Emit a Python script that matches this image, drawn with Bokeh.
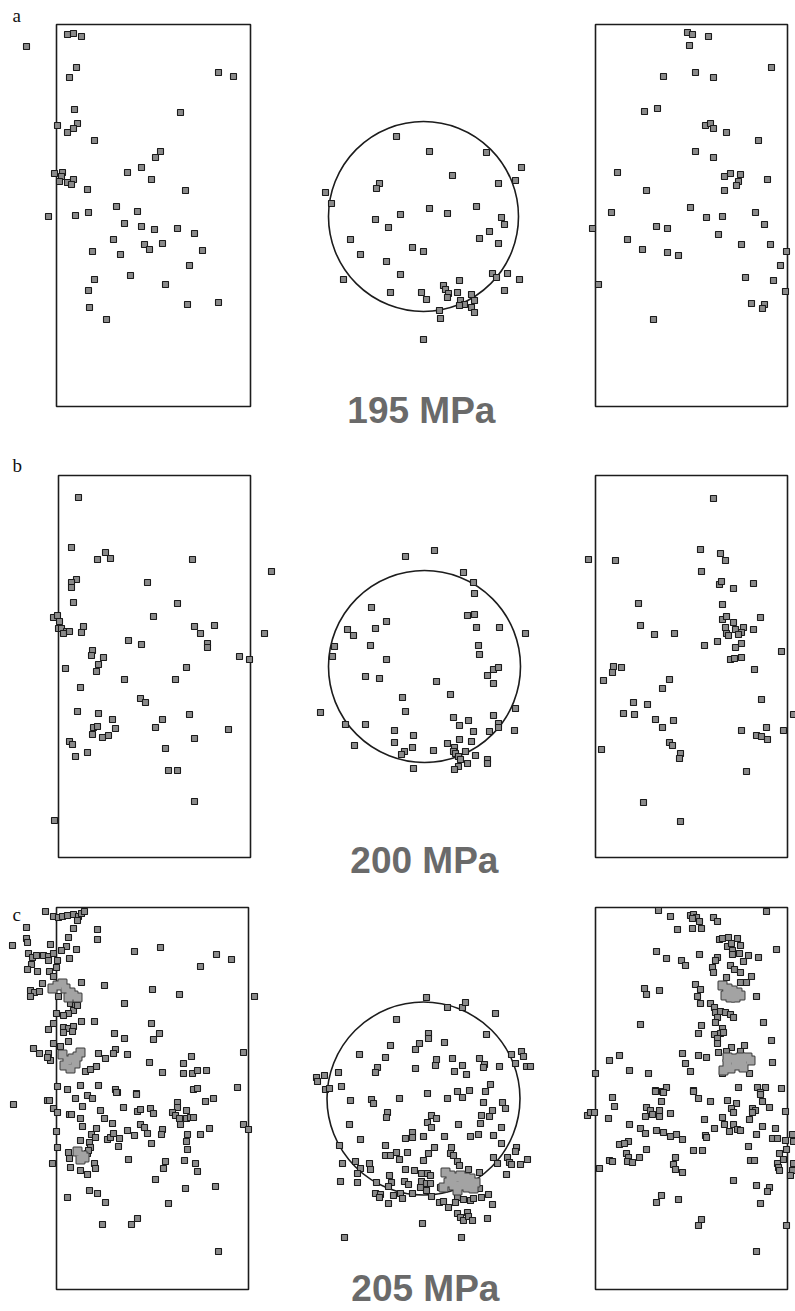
from bokeh.plotting import figure
from bokeh.models import Range1d
from bokeh.core.properties import value
from bokeh.embed import file_html
from bokeh.resources import INLINE

W, H = 795, 1311

# ---------------- data (page pixel units) ----------------
PANEL_LABELS = ["a", "b", "c"]
PANEL_LABEL_X = [12, 12, 12]
PANEL_LABEL_Y = [15, 465, 914]

PRESSURE_LABELS = ["195  MPa", "200  MPa", "205  MPa"]
PRESSURE_X = [426, 429, 430]
PRESSURE_Y = [410, 860, 1288]

# rectangular side views: left, right, top, bottom
RECT_LEFT = [56, 595, 58, 595, 56, 595]
RECT_RIGHT = [250, 787, 250, 787, 248, 787]
RECT_TOP = [24, 24, 475, 475, 907, 907]
RECT_BOTTOM = [406, 406, 857, 857, 1289, 1289]

# circular cross sections
CIRC_X = [423, 424, 423]
CIRC_Y = [216, 666, 1098]
CIRC_R = [95, 96, 96.5]

A_LEFT = [(26,46),(67,34),(73,33),(81,36),(76,67),(69,77),(218,72),(233,76),(74,109),(180,112),(57,125),(77,123),(73,128),(67,132),(94,140),(160,151),(155,157),(141,167),(127,172),(151,179),(54,173),(62,172),(61,176),(59,181),(67,182),(73,179),(71,184),(87,189),(185,190),(116,206),(137,211),(48,216),(75,215),(88,212),(124,223),(141,226),(154,229),(177,228),(194,233),(113,239),(144,244),(149,249),(162,243),(202,250),(92,251),(120,254),(189,265),(130,275),(94,279),(165,284),(88,290),(187,304),(218,302),(89,307),(106,319)]
A_MID = [(396,136),(429,151),(486,152),(521,167),(515,180),(452,175),(498,183),(379,183),(376,188),(325,192),(331,203),(429,208),(447,213),(476,206),(400,214),(375,219),(388,227),(501,217),(504,224),(489,231),(479,238),(350,239),(498,243),(412,247),(423,251),(360,254),(386,261),(400,274),(343,279),(492,273),(496,277),(507,273),(519,279),(459,280),(443,285),(445,289),(448,293),(447,297),(504,290),(390,292),(421,292),(426,299),(457,292),(471,294),(474,300),(460,300),(464,304),(459,305),(471,307),(474,312),(439,310),(440,318),(423,339)]
A_RIGHT = [(687,32),(692,34),(708,36),(689,45),(771,67),(663,76),(695,72),(713,77),(644,111),(657,108),(705,125),(710,123),(713,128),(726,132),(758,140),(695,151),(713,157),(617,172),(724,176),(730,173),(740,174),(738,181),(736,185),(767,179),(646,190),(724,190),(690,207),(611,212),(706,217),(722,216),(755,212),(592,228),(656,226),(667,228),(764,224),(718,234),(627,239),(642,249),(667,252),(678,255),(741,244),(770,244),(786,251),(780,265),(745,277),(773,280),(598,284),(785,291),(751,303),(764,304),(762,308),(653,319)]

B_LEFT = [(78,497),(71,547),(105,552),(97,559),(110,558),(192,559),(271,571),(76,579),(71,582),(71,587),(147,582),(73,602),(177,603),(53,617),(57,615),(59,621),(153,616),(58,628),(61,628),(66,631),(63,633),(69,631),(83,626),(81,632),(194,626),(200,633),(214,625),(264,633),(128,640),(141,644),(207,643),(207,647),(92,650),(91,655),(103,657),(239,656),(249,659),(98,664),(96,671),(65,668),(186,667),(124,679),(175,679),(80,687),(140,698),(145,702),(77,711),(98,713),(112,719),(162,719),(189,714),(93,727),(97,726),(115,728),(155,727),(92,734),(102,737),(108,735),(228,729),(194,738),(69,741),(72,744),(87,752),(75,756),(165,748),(168,770),(177,770),(194,801),(54,820)]
B_MID = [(405,556),(434,550),(463,572),(473,582),(474,593),(371,607),(467,615),(474,614),(386,621),(347,629),(375,628),(476,627),(499,627),(525,633),(353,635),(334,646),(332,656),(370,645),(478,645),(479,654),(386,659),(493,669),(498,667),(487,675),(365,676),(379,678),(436,681),(493,683),(450,694),(402,697),(515,708),(320,712),(405,711),(453,717),(493,715),(468,720),(459,725),(345,724),(365,724),(498,723),(498,727),(394,730),(473,731),(489,731),(514,730),(413,735),(459,739),(471,741),(394,742),(447,743),(354,745),(412,747),(404,751),(401,754),(433,750),(454,747),(453,751),(455,753),(465,751),(458,756),(475,755),(460,759),(467,763),(487,759),(487,763),(413,768),(458,766),(454,769)]
B_RIGHT = [(713,498),(588,559),(615,560),(700,549),(720,553),(725,560),(701,571),(719,584),(721,581),(733,588),(753,583),(638,603),(722,604),(760,617),(722,619),(726,616),(733,622),(725,627),(726,633),(728,635),(735,629),(743,627),(741,632),(738,634),(753,629),(640,625),(654,634),(674,633),(704,645),(717,641),(741,643),(735,647),(781,651),(730,659),(734,658),(741,657),(754,669),(613,666),(612,672),(621,667),(603,680),(669,679),(662,688),(761,699),(633,702),(647,704),(623,713),(634,714),(793,714),(655,719),(673,720),(662,727),(741,730),(766,727),(756,735),(761,736),(767,739),(783,730),(601,749),(669,742),(672,745),(680,753),(679,758),(746,771),(643,802),(680,821)]

C_LEFT = [(45,911),(53,916),(58,917),(62,916),(67,915),(73,914),(78,916),(81,913),(84,911),(77,920),(26,927),(73,928),(97,929),(26,938),(27,942),(68,937),(97,939),(12,945),(50,944),(66,946),(61,950),(76,949),(134,951),(160,947),(216,954),(231,959),(28,953),(32,957),(36,955),(43,955),(48,956),(48,960),(53,953),(57,960),(69,958),(200,966),(31,964),(27,969),(37,971),(49,971),(56,967),(53,976),(42,983),(81,982),(104,985),(152,989),(179,994),(254,996),(30,990),(34,992),(39,991),(30,996),(58,996),(70,1003),(75,1005),(73,1010),(68,1013),(63,1015),(77,1005),(124,1003),(56,1013),(81,1021),(94,1021),(53,1023),(48,1029),(63,1027),(68,1028),(73,1026),(72,1031),(63,1032),(151,1023),(114,1033),(159,1033),(124,1038),(153,1039),(53,1043),(60,1046),(68,1041),(33,1048),(39,1053),(48,1053),(50,1060),(47,1057),(98,1053),(115,1049),(113,1053),(105,1058),(127,1054),(149,1062),(191,1056),(243,1052),(183,1063),(85,1071),(90,1069),(96,1066),(162,1072),(183,1073),(192,1073),(197,1070),(206,1070),(57,1086),(67,1089),(80,1085),(98,1085),(115,1089),(117,1092),(136,1093),(193,1089),(197,1088),(237,1087),
          (13,1104),(47,1100),(49,1100),(75,1098),(87,1095),(92,1098),(116,1092),(136,1094),(53,1108),(57,1112),(69,1114),(71,1114),(82,1106),(80,1118),(100,1110),(104,1118),(123,1107),(137,1111),(140,1109),(150,1108),(153,1113),(177,1102),(177,1107),(172,1112),(175,1115),(179,1118),(186,1110),(186,1118),(190,1117),(193,1117),(205,1101),(213,1098),(243,1124),(248,1129),(82,1126),(112,1123),(140,1124),(144,1127),(147,1133),(162,1129),(161,1134),(180,1124),(209,1128),(56,1131),(96,1128),(127,1130),(134,1135),(187,1134),(200,1134),(91,1134),(95,1137),(107,1139),(110,1137),(113,1133),(119,1138),(80,1140),(89,1142),(90,1147),(186,1141),(151,1143),(118,1146),(57,1147),(187,1149),(87,1153),(88,1150),(68,1152),(69,1158),(128,1159),(165,1161),(184,1160),(52,1163),(94,1163),(95,1168),(195,1163),(70,1167),(163,1168),(80,1170),(197,1171),(87,1174),(155,1179),(185,1188),(215,1186),(89,1190),(97,1193),(67,1197),(105,1202),(168,1203),(137,1218),(102,1224),(131,1224),(218,1251)]
C_LEFT_BLOB = [(52,988),(57,985),(62,983),(65,988),(70,992),(73,995),(77,997),(68,997),(62,1054),(67,1060),(72,1058),(77,1056),(80,1052),(64,1065),(70,1068),(75,1063),(77,1151),(82,1155),(80,1159),(84,1157)]
C_MID = [(426,997),(447,1007),(462,1007),(465,1002),(495,1013),(396,1019),(428,1033),(428,1038),(486,1034),(444,1042),(390,1045),(419,1043),(415,1049),(359,1054),(511,1054),(521,1051),(523,1056),(385,1057),(436,1059),(435,1065),(452,1058),(479,1058),(484,1064),(483,1067),(515,1063),(526,1066),(530,1066),(499,1066),(462,1065),(415,1068),(377,1067),(375,1072),(454,1071),(466,1074),(338,1072),(324,1075),(316,1077),(317,1081),(325,1089),(329,1088),(341,1086),(490,1084),(427,1093),(457,1091),(469,1090),(485,1091),(462,1097),(447,1098),(399,1098),(371,1099),(373,1103),(350,1100),(483,1102),(502,1102),(505,1108),(492,1110),(489,1116),(387,1112),(386,1117),(431,1115),(436,1118),(481,1115),(427,1122),(431,1127),(349,1124),(458,1124),(480,1123),(501,1127),(360,1139),(405,1138),(412,1132),(412,1137),(423,1136),(444,1136),(470,1136),(478,1134),(493,1135),(339,1145),(501,1143),(516,1147),(515,1151),(385,1145),(434,1147),(428,1153),(451,1147),(450,1153),(453,1155),(396,1152),(385,1155),(390,1155),(407,1152),(399,1159),(493,1157),(497,1163),(507,1157),(509,1162),(511,1164),(520,1164),(527,1159),(342,1163),(355,1161),(369,1163),(370,1169),(423,1160),(457,1161),(459,1165),(405,1169),(414,1170),(360,1168),(357,1173),(421,1173),(427,1173),(430,1175),(468,1169),(479,1172),(389,1175),(506,1174),(340,1181),(357,1182),(376,1182),(391,1182),(404,1181),(408,1184),(421,1181),(426,1183),(430,1183),(479,1188),(388,1186),(412,1193),(426,1190),(420,1187),(440,1187),(375,1193),(380,1194),(379,1197),(393,1195),(400,1193),(402,1198),(431,1196),(439,1202),(443,1201),(457,1197),(455,1202),(463,1199),(470,1200),(473,1198),(481,1197),(488,1194),(492,1204),(388,1203),(448,1207),(457,1213),(460,1217),(463,1220),(467,1212),(468,1216),(472,1220),(487,1218),(422,1223),(344,1237),(461,1237)]
C_MID_BLOB = [(445,1172),(450,1175),(455,1177),(460,1175),(465,1177),(470,1178),(475,1182),(448,1182),(453,1185),(460,1185),(467,1187),(473,1188),(443,1187),(457,1190),(452,1180),(462,1181),(468,1182)]
C_RIGHT = [(658,910),(670,916),(690,915),(693,914),(696,917),(692,918),(699,921),(713,917),(717,921),(766,911),(677,929),(692,928),(701,928),(719,939),(722,938),(728,937),(737,938),(727,946),(731,943),(740,945),(732,950),(732,954),(776,949),(656,951),(699,954),(717,957),(715,960),(739,953),(748,955),(758,957),(666,958),(681,960),(685,965),(743,961),(730,965),(734,969),(712,967),(713,972),(740,972),(726,977),(751,976),(740,982),(746,982),(695,984),(700,989),(644,988),(646,994),(659,990),(697,996),(756,996),(700,1003),(710,1003),(714,1007),(715,1012),(720,1011),(725,1012),(730,1014),(733,1017),(717,1017),(715,1022),(640,1024),(763,1022),(701,1025),(722,1028),(720,1033),(723,1032),(698,1033),(714,1034),(717,1038),(717,1043),(771,1040),(744,1045),(731,1047),(740,1051),(726,1051),(718,1052),(682,1053),(619,1055),(609,1060),(698,1055),(706,1057),(772,1062),(685,1063),(595,1073),(629,1070),(648,1073),(690,1071),(722,1073),(749,1073),(655,1090),(662,1091),(666,1087),(693,1090),(738,1087),(757,1087),(765,1087),(760,1092),(781,1088),
           (612,1097),(614,1106),(587,1115),(590,1112),(594,1112),(608,1118),(646,1107),(650,1110),(652,1114),(659,1110),(659,1116),(661,1101),(655,1091),(663,1092),(645,1116),(670,1113),(698,1098),(710,1101),(693,1091),(727,1100),(736,1103),(731,1108),(733,1112),(752,1108),(755,1110),(752,1112),(760,1094),(762,1101),(769,1107),(785,1111),(704,1119),(722,1117),(749,1119),(629,1124),(724,1124),(733,1124),(737,1129),(740,1130),(762,1126),(714,1128),(729,1131),(775,1128),(640,1128),(645,1133),(656,1130),(663,1132),(705,1135),(706,1137),(756,1134),(792,1134),(670,1136),(676,1134),(682,1139),(772,1138),(777,1138),(785,1140),(793,1141),(628,1141),(619,1144),(624,1143),(748,1146),(786,1149),(646,1149),(693,1150),(702,1150),(626,1153),(628,1157),(627,1161),(639,1157),(632,1162),(779,1153),(609,1160),(612,1161),(675,1157),(750,1160),(754,1160),(783,1159),(777,1163),(778,1167),(779,1170),(793,1163),(792,1170),(790,1175),(673,1164),(675,1169),(682,1172),(599,1168),(733,1180),(756,1185),(769,1187),(767,1191),(661,1195),(656,1202),(678,1199),(760,1203),(701,1219),(698,1225),(786,1225),(756,1251)]
C_RIGHT_BLOB = [(722,985),(727,988),(732,990),(737,992),(740,995),(725,995),(730,997),(735,997),(727,992),(733,994),(727,1057),(733,1058),(740,1057),(747,1057),(750,1060),(737,1065),(743,1067),(727,1063),(723,1070),(730,1068),(742,1063),(735,1061)]

# ---------------- figure ----------------
p = figure(width=W, height=H, output_backend="svg", toolbar_location=None,
           x_range=Range1d(0, W), y_range=Range1d(H, 0),
           x_axis_location=None, y_axis_location=None, min_border=0)
p.outline_line_color = None
p.grid.visible = False
p.background_fill_color = "white"
p.border_fill_color = "white"

p.quad(left=RECT_LEFT, right=RECT_RIGHT, top=RECT_TOP, bottom=RECT_BOTTOM,
       fill_color=None, line_color="#1c1c1c", line_width=1.6)
p.ellipse(x=CIRC_X, y=CIRC_Y, width=[2 * r for r in CIRC_R], height=[2 * r for r in CIRC_R],
          fill_color=None, line_color="#1c1c1c", line_width=1.6)

def pts(lst):
    return [a for a, b in lst], [b for a, b in lst]

regular = A_LEFT + A_MID + A_RIGHT + B_LEFT + B_MID + B_RIGHT + C_LEFT + C_MID + C_RIGHT
rx, ry = pts(regular)
p.scatter(rx, ry, marker="square", size=6, fill_color="#8a8a8a",
          line_color="#1a1a1a", line_width=1.1)

blobs = C_LEFT_BLOB + C_MID_BLOB + C_RIGHT_BLOB
bx, by = pts(blobs)
p.scatter(bx, by, marker="square", size=8, fill_color="#a3a3a3",
          line_color="#3a3a3a", line_width=2.0)
p.scatter(bx, by, marker="square", size=8, fill_color="#a3a3a3", line_color=None)

p.text(x=PANEL_LABEL_X, y=PANEL_LABEL_Y, text=PANEL_LABELS,
       text_font=value("Liberation Serif"), text_font_size="19px",
       text_color="#111111", text_align="left", text_baseline="middle")

p.text(x=PRESSURE_X, y=PRESSURE_Y, text=PRESSURE_LABELS,
       text_font=value("Liberation Sans"), text_font_style="bold",
       text_font_size="37px", text_color="#6a6a6a",
       text_align="center", text_baseline="middle")

open("out.html", "w").write(file_html(p, INLINE))
